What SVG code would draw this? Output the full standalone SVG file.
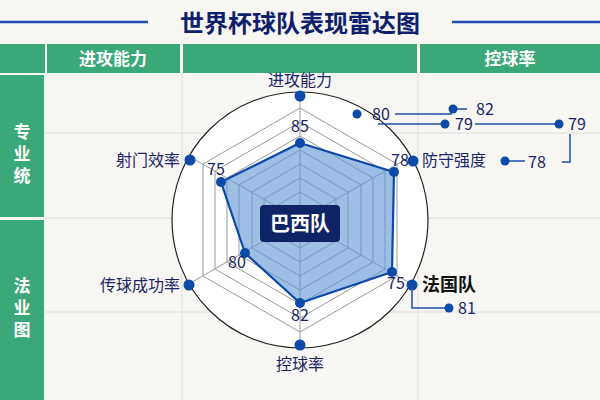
<svg xmlns="http://www.w3.org/2000/svg" width="600" height="400" viewBox="0 0 600 400">
<style>
text{font-family:"Noto Sans CJK SC","Noto Sans",sans-serif;fill:#1a2466}
.h{fill:#fff;font-size:17px;font-weight:bold}
.lbl{font-size:16px}
.num{font-size:16px}
.g{stroke:#9a9a9a;fill:none;stroke-width:1}
.c{stroke:#1f4fa8;stroke-width:1.5;fill:none}
.d{fill:#0b4aa8}
</style>
<rect width="600" height="400" fill="#f7f6f2"/>
<g stroke="#dcdcdc" stroke-width="1">
<line x1="182" y1="73" x2="182" y2="400"/><line x1="418" y1="73" x2="418" y2="400"/>
<line x1="45" y1="133" x2="600" y2="133"/><line x1="45" y1="218" x2="600" y2="218"/><line x1="45" y1="312" x2="600" y2="312"/>
</g>
<g id="title">
<line x1="0" y1="22" x2="148" y2="22" stroke="#1e4fb0" stroke-width="2.5"/>
<line x1="452" y1="22" x2="600" y2="22" stroke="#1e4fb0" stroke-width="2.5"/>
<text x="300" y="32" text-anchor="middle" style="font-size:24px;font-weight:bold;fill:#0f1f6b">世界杯球队表现雷达图</text>
</g>
<g id="header">
<rect x="0" y="44" width="45" height="29" fill="#3aa878"/>
<rect x="47" y="44" width="133" height="29" fill="#3aa878"/>
<rect x="183" y="44" width="234" height="29" fill="#3aa878"/>
<rect x="420" y="44" width="180" height="29" fill="#3aa878"/>
<text class="h" x="113" y="65" text-anchor="middle">进攻能力</text>
<text class="h" x="510" y="65" text-anchor="middle">控球率</text>
<rect x="0" y="75" width="44" height="142" fill="#3aa878"/>
<rect x="0" y="220" width="44" height="180" fill="#3aa878"/>
<text class="h" x="22" y="138" text-anchor="middle">专</text>
<text class="h" x="22" y="160" text-anchor="middle">业</text>
<text class="h" x="22" y="182" text-anchor="middle">统</text>
<text class="h" x="22" y="292" text-anchor="middle">法</text>
<text class="h" x="22" y="314" text-anchor="middle">业</text>
<text class="h" x="22" y="336" text-anchor="middle">图</text>
</g>
<g id="radar">
<circle cx="300" cy="220" r="128" fill="#fff" stroke="#222" stroke-width="1.2"/>
<g class="g">
<polygon points="300,206 312,213 312,227 300,234 288,227 288,213"/>
<polygon points="300,192 324,206 324,234 300,248 276,234 276,206"/>
<polygon points="300,178 336,199 336,241 300,262 264,241 264,199"/>
<polygon points="300,164 348,192 348,248 300,276 252,248 252,192"/>
<polygon points="300,150 361,185 361,255 300,290 239,255 239,185"/>
<polygon points="300,136 373,178 373,262 300,304 227,262 227,178"/>
<polygon points="300,122 385,171 385,269 300,318 215,269 215,171"/>
<polygon points="300,108 397,164 397,276 300,332 203,276 203,164"/>
<path d="M300,220 L300,95 M300,220 L300,345 M300,220 L408,158 M300,220 L192,158 M300,220 L408,282 M300,220 L192,282"/>
</g>
<polygon points="300,143 394,172 392,272 300,303 245,253 221,182" fill="#5b95d6" fill-opacity="0.6" stroke="#0b4aa8" stroke-width="2.2"/>
<g class="d">
<circle cx="300" cy="143" r="5"/><circle cx="394" cy="172" r="5"/><circle cx="392" cy="272" r="5"/>
<circle cx="300" cy="303" r="5"/><circle cx="245" cy="253" r="5"/><circle cx="221" cy="182" r="5"/>
<circle cx="300" cy="96" r="5.5"/><circle cx="300" cy="345" r="5.5"/><circle cx="190" cy="160" r="5.5"/>
<circle cx="189" cy="285" r="5.5"/><circle cx="413" cy="161" r="5.5"/><circle cx="412" cy="285" r="5.5"/>
</g>
<text class="num" x="300" y="132" text-anchor="middle">85</text>
<text class="num" x="216" y="175" text-anchor="middle">75</text>
<text class="num" x="400" y="166" text-anchor="middle">78</text>
<text class="num" x="396" y="289" text-anchor="middle">75</text>
<text class="num" x="237" y="268" text-anchor="middle">80</text>
<text class="num" x="300" y="321" text-anchor="middle">82</text>
<rect x="260" y="205" width="80" height="37" rx="4" fill="#0f2366"/>
<text x="300" y="231" text-anchor="middle" style="fill:#fff;font-size:20px;font-weight:bold">巴西队</text>
</g>
<g id="labels">
<text class="lbl" x="300" y="86" text-anchor="middle">进攻能力</text>
<text class="lbl" x="180" y="166" text-anchor="end">射门效率</text>
<text class="lbl" x="180" y="291" text-anchor="end">传球成功率</text>
<text class="lbl" x="300" y="370" text-anchor="middle">控球率</text>
<text class="lbl" x="422" y="166">防守强度</text>
<text x="422" y="291" style="font-size:18px;font-weight:bold;fill:#111">法国队</text>
</g>
<g id="connectors">
<path class="c" d="M395,114 H452 M457,109 H467 M378,124 H445 M475,124 H559 M570,134 V162 H562 M505,161 H525 M412,285 V308 H449"/>
<g class="d">
<circle cx="357" cy="114" r="4.5"/><circle cx="453" cy="109" r="4.5"/><circle cx="445" cy="124" r="4.5"/>
<circle cx="559" cy="124" r="4.5"/><circle cx="505" cy="161" r="4.5"/><circle cx="449" cy="308" r="4.5"/>
</g>
<text class="num" x="372" y="120">80</text>
<text class="num" x="476" y="115">82</text>
<text class="num" x="455" y="130">79</text>
<text class="num" x="568" y="130">79</text>
<text class="num" x="528" y="168">78</text>
<text class="num" x="458" y="314">81</text>
</g>
</svg>
